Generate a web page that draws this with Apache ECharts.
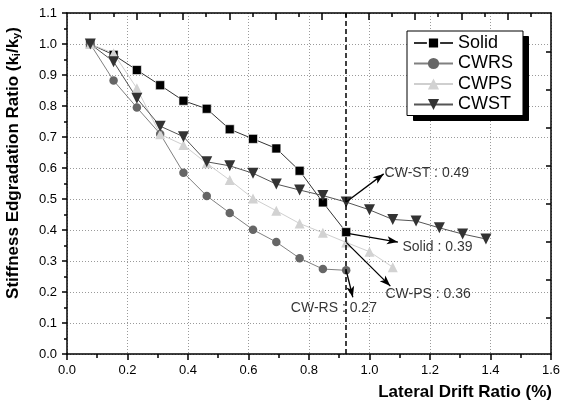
<!DOCTYPE html>
<html>
<head>
<meta charset="utf-8">
<script src="https://cdn.jsdelivr.net/npm/echarts@6/dist/echarts.min.js"></script>
<style>
  html, body { margin: 0; padding: 0; background: #fff; }
  #main { width: 563px; height: 403px; }
</style>
</head>
<body>
<div id="main"></div>
<script>
// lateral drift ratio (%) per load step
var drift = [0.077, 0.154, 0.231, 0.308, 0.385, 0.462, 0.538, 0.615, 0.692, 0.769,
             0.846, 0.923, 1.0, 1.077, 1.154, 1.231, 1.308, 1.385];
// stiffness ratio k_i/k_y
var solid = [1.0, 0.965, 0.916, 0.867, 0.817, 0.791, 0.725, 0.694, 0.663, 0.591, 0.489, 0.393];
var cwrs  = [1.0, 0.882, 0.795, 0.71, 0.585, 0.51, 0.455, 0.401, 0.361, 0.309, 0.274, 0.27];
var cwps  = [1.0, 0.97, 0.857, 0.709, 0.674, 0.615, 0.561, 0.502, 0.462, 0.421, 0.391, 0.36, 0.33, 0.28];
var cwst  = [1.0, 0.943, 0.825, 0.735, 0.701, 0.62, 0.607, 0.583, 0.548, 0.529, 0.511, 0.49,
             0.465, 0.434, 0.429, 0.407, 0.387, 0.371];

// reference drift (dashed line) and annotations
var refDrift = 0.923;
var noteText = ['CW-ST : 0.49', 'Solid : 0.39', 'CW-PS : 0.36', 'CW-RS : 0.27'];
var noteX = [1.05, 1.109, 1.053, 0.74];
var noteY = [0.584, 0.345, 0.194, 0.147];
var arrowFrom = [[0.923, 0.49], [0.923, 0.39], [0.923, 0.36], [0.923, 0.27]];
var arrowTo = [[1.047, 0.581], [1.094, 0.361], [1.069, 0.219], [0.945, 0.183]];

function pairs(ys) {
	var out = [];
	for (var i = 0; i < ys.length; i++) out.push([drift[i], ys[i]]);
	return out;
}

var font = 'Arial, "Liberation Sans", sans-serif';
var dotted = { show: true, lineStyle: { color: '#9a9a9a', type: [1, 2], width: 1 } };
var frame = { show: true, onZero: false, lineStyle: { color: '#000', width: 1.5 } };

var notes = [];
for (var i = 0; i < noteText.length; i++) notes.push({ name: noteText[i], value: [noteX[i], noteY[i]] });
var arrows = [];
for (var j = 0; j < arrowFrom.length; j++) arrows.push([{ coord: arrowFrom[j] }, { coord: arrowTo[j] }]);

var myChart = echarts.init(document.getElementById('main'));
myChart.setOption({
	animation: false,
	backgroundColor: '#fff',
	grid: { left: 67, right: 10, top: 13, bottom: 49 },
	legend: {
		orient: 'vertical',
		left: 407, top: 31, z: 10,
		data: ['Solid', 'CWRS', 'CWPS', 'CWST'],
		itemWidth: 39, itemHeight: 14, itemGap: 2.5,
		padding: [3, 10, 2, 6],
		backgroundColor: '#fff',
		borderColor: '#000', borderWidth: 1, borderRadius: 0,
		textStyle: { fontFamily: font, fontSize: 18, lineHeight: 18, color: '#000' }
	},
	xAxis: [
		{
			type: 'value', min: 0, max: 1.6, interval: 0.2, position: 'bottom',
			axisLine: frame,
			axisTick: { show: true, inside: false, length: 6, lineStyle: { color: '#000', width: 1.5 } },
			minorTick: { show: true, splitNumber: 2, length: 4, lineStyle: { color: '#000', width: 1.5 } },
			axisLabel: { margin: 10, fontFamily: font, fontSize: 13, color: '#000',
				formatter: function (v) { return v.toFixed(1); } },
			splitLine: dotted
		},
		{
			type: 'value', min: -0.5, max: 9.93, position: 'top',
			axisLine: frame,
			axisTick: { show: true, inside: true, length: 7, customValues: [0, 1, 2, 3, 4, 5, 6, 7, 8, 9],
				lineStyle: { color: '#000', width: 1.5 } },
			axisLabel: { show: false }, splitLine: { show: false }
		},
		{
			type: 'value', min: -0.5, max: 9.93, position: 'top',
			axisLine: { show: false, onZero: false },
			axisTick: { show: true, inside: true, length: 4, customValues: [0.5, 1.5, 2.5, 3.5, 4.5, 5.5, 6.5, 7.5, 8.5, 9.5],
				lineStyle: { color: '#000', width: 1.5 } },
			axisLabel: { show: false }, splitLine: { show: false }
		}
	],
	yAxis: [
		{
			type: 'value', min: 0, max: 1.1, interval: 0.1,
			axisLine: frame,
			axisTick: { show: true, inside: false, length: 5, lineStyle: { color: '#000', width: 1.5 } },
			minorTick: { show: true, splitNumber: 2, length: 3, lineStyle: { color: '#000', width: 1.5 } },
			axisLabel: { margin: 10, fontFamily: font, fontSize: 13, color: '#000',
				formatter: function (v) { return v.toFixed(1); } },
			splitLine: dotted
		},
		{
			type: 'value', min: 0, max: 8.95, position: 'right',
			axisLine: frame,
			axisTick: { show: true, inside: true, length: 5, customValues: [0.94, 1.94, 2.94, 3.94, 4.94, 5.94, 6.94, 7.94],
				lineStyle: { color: '#000', width: 1.5 } },
			axisLabel: { show: false }, splitLine: { show: false }
		}
	],
	graphic: [
		{
			// legend drop shadow
			type: 'rect', left: 413, top: 36, z: 5, zlevel: 0,
			shape: { width: 115, height: 84 },
			style: { fill: '#000', stroke: '#000' }
		},
		{
			type: 'text', x: 552, y: 392,
			style: { text: 'Lateral Drift Ratio (%)', font: 'bold 17px ' + font, fill: '#000',
				align: 'right', verticalAlign: 'middle' }
		},
		{
			type: 'text', x: 13, y: 163, rotation: Math.PI / 2,
			style: {
				text: 'Stiffness Edgradation Ratio (k{s|i}/k{s|y})',
				font: 'bold 17px ' + font, fill: '#000',
				align: 'center', verticalAlign: 'middle',
				rich: { s: { fontSize: 11, fontWeight: 'bold', fontFamily: font, padding: [8, 0, 0, 0] } }
			}
		}
	],
	series: [
		{
			name: 'Solid', type: 'line', data: pairs(solid),
			symbol: 'rect', symbolSize: 9,
			itemStyle: { color: '#000', borderColor: '#fff', borderWidth: 0.6 },
			lineStyle: { color: '#333', width: 1 },
			markLine: {
				silent: true, symbol: ['none', 'none'], label: { show: false },
				lineStyle: { color: '#000', type: [5, 3], width: 1.5 },
				data: [{ xAxis: refDrift }]
			}
		},
		{
			name: 'CWRS', type: 'line', data: pairs(cwrs),
			symbol: 'circle', symbolSize: 8.5,
			itemStyle: { color: '#666' },
			lineStyle: { color: '#808080', width: 1 }
		},
		{
			name: 'CWPS', type: 'line', data: pairs(cwps),
			symbol: 'triangle', symbolSize: 10,
			itemStyle: { color: '#d2d2d2' },
			lineStyle: { color: '#cfcfcf', width: 1 }
		},
		{
			name: 'CWST', type: 'line', data: pairs(cwst),
			symbol: 'triangle', symbolRotate: 180, symbolSize: 11,
			itemStyle: { color: '#333' },
			lineStyle: { color: '#555', width: 1 }
		},
		{
			name: 'notes', type: 'scatter', data: notes,
			symbolSize: 0, silent: true, z: 5,
			label: { show: true, position: 'right', distance: 0, formatter: '{b}',
				fontFamily: font, fontSize: 14, color: '#000' },
			markLine: {
				silent: true, symbol: ['none', 'arrow'], symbolSize: [6, 11],
				label: { show: false },
				lineStyle: { color: '#000', type: 'solid', width: 1.3 },
				data: arrows
			}
		}
	]
});
</script>
</body>
</html>
